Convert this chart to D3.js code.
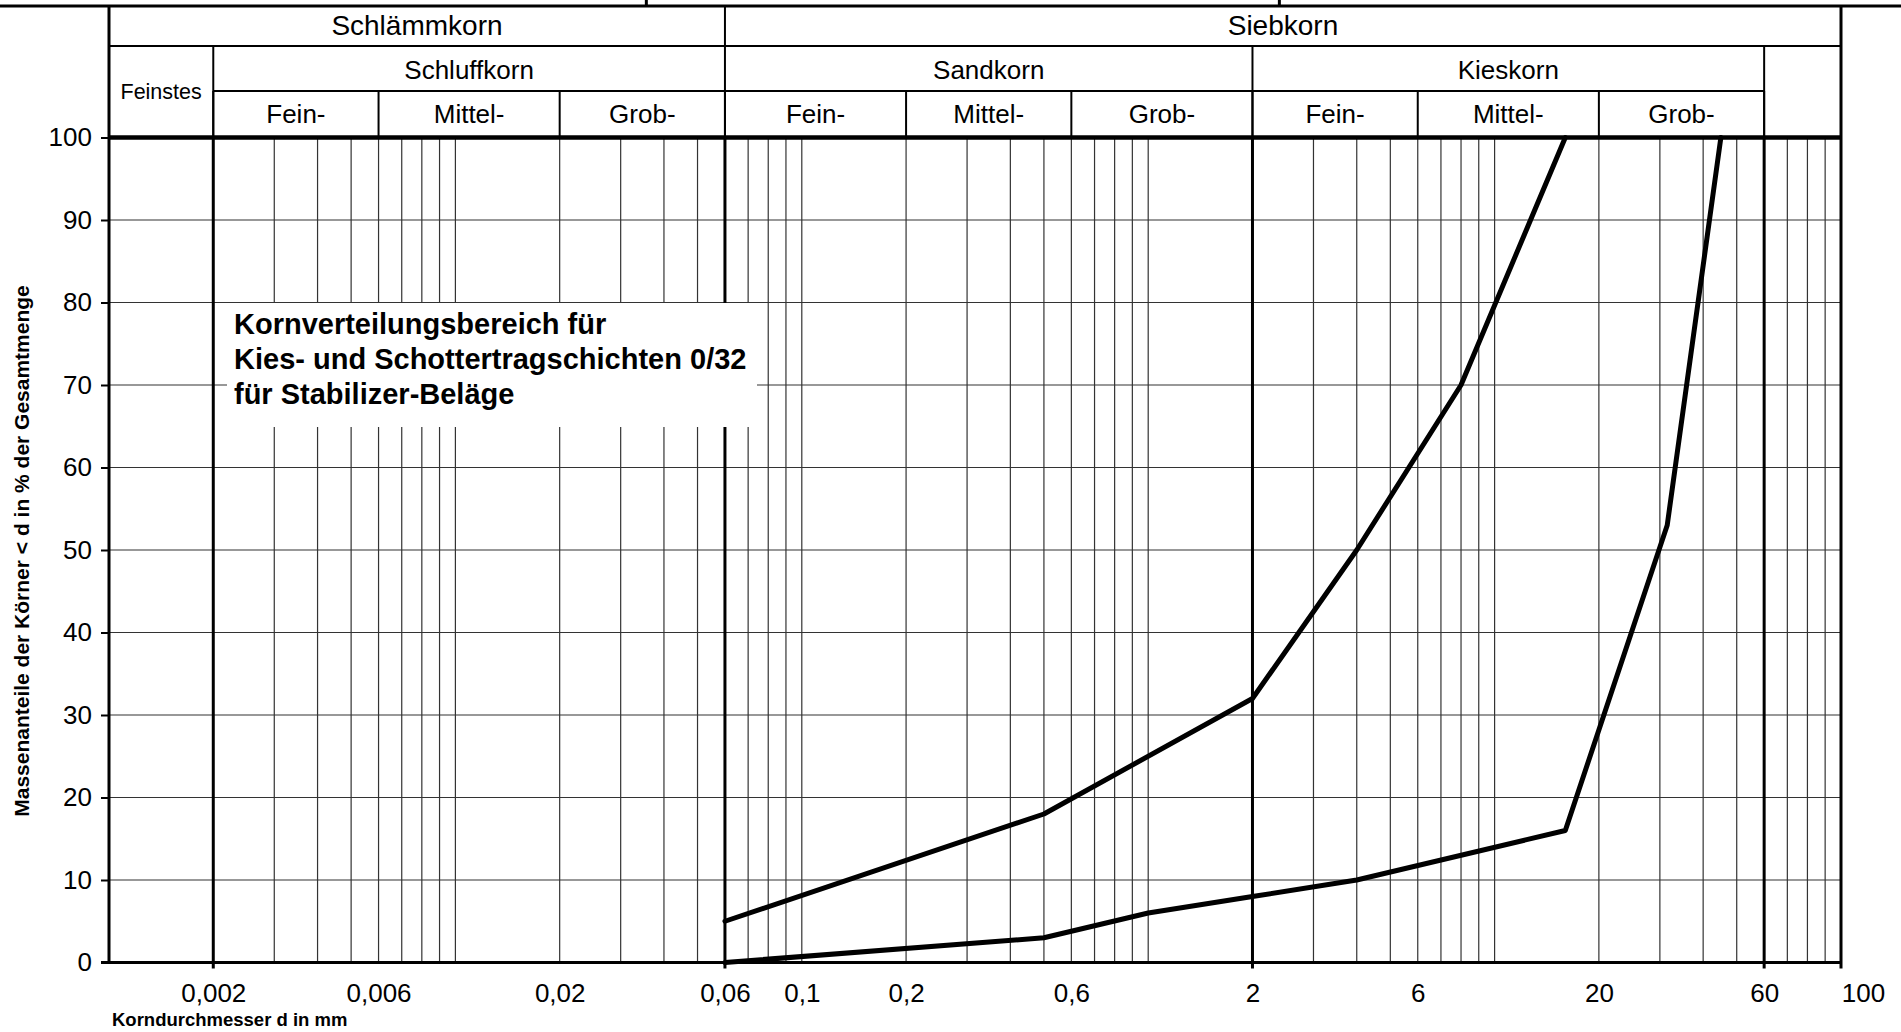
<!DOCTYPE html>
<html>
<head>
<meta charset="utf-8">
<script src="https://cdn.jsdelivr.net/npm/d3@7"></script>
<style>
  html, body { margin: 0; padding: 0; background: #fff; }
  svg { display: block; font-family: "Liberation Sans", Arial, sans-serif; }
</style>
</head>
<body>
<svg id="chart" width="1901" height="1032"></svg>
<script>
(() => {
  /* ---------- DATA ---------- */

  // grading envelope, grain size in mm / passing in %
  const upperSize = [0.06, 0.5, 2, 4, 8, 16];
  const upperPct = [5, 18, 32, 50, 70, 100];
  const lowerSize = [0.06, 0.5, 1, 2, 4, 16, 31.5, 45];
  const lowerPct = [0, 3, 6, 8, 10, 16, 53, 100];

  const xTicks = [0.002, 0.006, 0.02, 0.06, 0.1, 0.2, 0.6, 2, 6, 20, 60, 100];
  const yTicks = [0, 10, 20, 30, 40, 50, 60, 70, 80, 90, 100];

  const row1Labels = ["Schlämmkorn", "Siebkorn"];
  const row1Bounds = [0.001, 0.06, 100];
  const row2Labels = ["Feinstes", "Schluffkorn", "Sandkorn", "Kieskorn", ""];
  const row2Bounds = [0.001, 0.002, 0.06, 2, 60, 100];
  const row3Labels = ["Fein-", "Mittel-", "Grob-", "Fein-", "Mittel-", "Grob-", "Fein-", "Mittel-", "Grob-"];
  const row3Bounds = [0.002, 0.006, 0.02, 0.06, 0.2, 0.6, 2, 6, 20, 60];

  const mainBounds = [0.002, 0.06, 2, 60];

  const noteLines = [
    "Kornverteilungsbereich für",
    "Kies- und Schottertragschichten 0/32",
    "für Stabilizer-Beläge"
  ];

  /* ---------- LAYOUT ---------- */

  const svg = d3.select("#chart");
  const W = 1901;

  const x = d3.scaleLog().domain([0.001, 100]).range([109, 1841]);
  const y = d3.scaleLinear().domain([0, 100]).range([962.5, 137.5]);

  const hY = [6, 46, 91, y(100)];   // header row lines

  /* ---------- GRID ---------- */

  const grid = svg.append("g");

  grid.selectAll(".hgrid")
    .data(yTicks.filter(v => v > 0 && v < 100))
    .join("line")
    .attr("x1", x(0.001)).attr("x2", x(100))
    .attr("y1", d => y(d)).attr("y2", d => y(d))
    .attr("stroke", "#333").attr("stroke-width", 1.2);

  grid.selectAll(".vgrid")
    .data(x.ticks().filter(v => v > 0.0021 && v < 99))
    .join("line")
    .attr("x1", d => x(d)).attr("x2", d => x(d))
    .attr("y1", y(100)).attr("y2", y(0))
    .attr("stroke", "#333").attr("stroke-width", 1.2);

  grid.selectAll(".vmain")
    .data(mainBounds)
    .join("line")
    .attr("x1", d => x(d)).attr("x2", d => x(d))
    .attr("y1", y(100)).attr("y2", y(0) + 6)
    .attr("stroke", "#000").attr("stroke-width", 3);

  /* ---------- NOTE BOX ---------- */

  svg.append("rect")
    .attr("x", 227).attr("y", 303)
    .attr("width", 530).attr("height", 124)
    .attr("fill", "#fff");

  svg.append("g").selectAll("text")
    .data(noteLines)
    .join("text")
    .attr("x", 234)
    .attr("y", (d, i) => 334 + i * 35)
    .attr("font-size", 29)
    .attr("font-weight", "bold")
    .attr("fill", "#000")
    .text(d => d);

  /* ---------- CURVES ---------- */

  const line = d3.line()
    .x(d => x(d[0]))
    .y(d => y(d[1]));

  svg.append("g").selectAll("path")
    .data([
      d3.zip(upperSize, upperPct),
      d3.zip(lowerSize, lowerPct)
    ])
    .join("path")
    .attr("d", line)
    .attr("fill", "none")
    .attr("stroke", "#000")
    .attr("stroke-width", 5)
    .attr("stroke-linejoin", "round")
    .attr("stroke-linecap", "round");

  /* ---------- AXES ---------- */

  const yAxis = svg.append("g")
    .attr("transform", `translate(${x(0.001)},0)`)
    .call(d3.axisLeft(y).tickValues(yTicks).tickSize(8).tickPadding(9))
    .call(g => g.select(".domain").remove());
  yAxis.selectAll("line").attr("stroke", "#000").attr("stroke-width", 2);
  yAxis.selectAll("text").attr("font-size", 26).attr("font-family", "Liberation Sans, Arial").attr("fill", "#000");

  const xAxis = svg.append("g")
    .attr("transform", `translate(0,${y(0)})`)
    .call(d3.axisBottom(x).tickValues(xTicks).tickSize(0).tickPadding(21)
      .tickFormat(d => String(d).replace(".", ",")))
    .call(g => g.select(".domain").remove());
  xAxis.selectAll("text")
    .attr("font-size", 26)
    .attr("font-family", "Liberation Sans, Arial")
    .attr("fill", "#000")
    .attr("dx", d => d === 100 ? 22 : 0);

  // frame: bottom, left, right
  svg.append("line")
    .attr("x1", x(0.001) - 8).attr("x2", x(100))
    .attr("y1", y(0)).attr("y2", y(0))
    .attr("stroke", "#000").attr("stroke-width", 3);
  svg.append("line")
    .attr("x1", x(0.001)).attr("x2", x(0.001))
    .attr("y1", hY[0]).attr("y2", y(0))
    .attr("stroke", "#000").attr("stroke-width", 3);
  svg.append("line")
    .attr("x1", x(100)).attr("x2", x(100))
    .attr("y1", hY[0]).attr("y2", y(0) + 6)
    .attr("stroke", "#000").attr("stroke-width", 3);

  /* ---------- HEADER ---------- */

  const head = svg.append("g");

  // top edge across the page, plus the two stubs of the outer table
  head.append("line")
    .attr("x1", 0).attr("x2", W).attr("y1", hY[0]).attr("y2", hY[0])
    .attr("stroke", "#000").attr("stroke-width", 3);
  head.selectAll(".stub")
    .data([0.34, 0.673])
    .join("line")
    .attr("x1", d => W * d).attr("x2", d => W * d)
    .attr("y1", 0).attr("y2", hY[0])
    .attr("stroke", "#000").attr("stroke-width", 3);

  head.append("line")
    .attr("x1", x(0.001)).attr("x2", x(100)).attr("y1", hY[1]).attr("y2", hY[1])
    .attr("stroke", "#000").attr("stroke-width", 2);
  head.append("line")
    .attr("x1", x(0.002)).attr("x2", x(60)).attr("y1", hY[2]).attr("y2", hY[2])
    .attr("stroke", "#000").attr("stroke-width", 2);
  head.append("line")
    .attr("x1", x(0.001)).attr("x2", x(100)).attr("y1", hY[3]).attr("y2", hY[3])
    .attr("stroke", "#000").attr("stroke-width", 4.5);

  head.selectAll(".v1")
    .data(row1Bounds)
    .join("line")
    .attr("x1", d => x(d)).attr("x2", d => x(d))
    .attr("y1", hY[0]).attr("y2", hY[1])
    .attr("stroke", "#000").attr("stroke-width", 2);
  head.selectAll(".v2")
    .data(row2Bounds)
    .join("line")
    .attr("x1", d => x(d)).attr("x2", d => x(d))
    .attr("y1", hY[1]).attr("y2", hY[3])
    .attr("stroke", "#000").attr("stroke-width", 2);
  head.selectAll(".v3")
    .data(row3Bounds)
    .join("line")
    .attr("x1", d => x(d)).attr("x2", d => x(d))
    .attr("y1", hY[2]).attr("y2", hY[3])
    .attr("stroke", "#000").attr("stroke-width", 2);

  const mid = (a, b) => (x(a) + x(b)) / 2;

  head.selectAll(".t1")
    .data(row1Labels)
    .join("text")
    .attr("x", (d, i) => mid(row1Bounds[i], row1Bounds[i + 1]))
    .attr("y", 35)
    .attr("text-anchor", "middle")
    .attr("font-size", 28)
    .text(d => d);

  head.selectAll(".t2")
    .data(row2Labels)
    .join("text")
    .attr("x", (d, i) => mid(row2Bounds[i], row2Bounds[i + 1]))
    .attr("y", (d, i) => i === 0 ? 99 : 79)
    .attr("text-anchor", "middle")
    .attr("font-size", (d, i) => i === 0 ? 21.5 : 26)
    .text(d => d);

  head.selectAll(".t3")
    .data(row3Labels)
    .join("text")
    .attr("x", (d, i) => mid(row3Bounds[i], row3Bounds[i + 1]))
    .attr("y", 123)
    .attr("text-anchor", "middle")
    .attr("font-size", 26)
    .text(d => d);

  /* ---------- AXIS TITLES ---------- */

  svg.append("text")
    .attr("transform", "translate(29,551) rotate(-90)")
    .attr("text-anchor", "middle")
    .attr("font-size", 21)
    .attr("font-weight", "bold")
    .text("Massenanteile der Körner < d in % der Gesamtmenge");

  svg.append("text")
    .attr("x", 112)
    .attr("y", 1026)
    .attr("font-size", 18.5)
    .attr("font-weight", "bold")
    .text("Korndurchmesser d in mm");
})();
</script>
</body>
</html>
